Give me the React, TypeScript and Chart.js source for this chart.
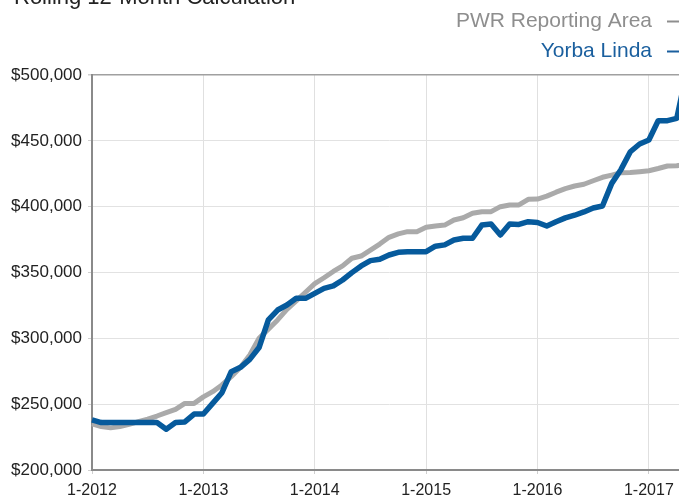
import React, { useEffect, useRef } from 'react';
import { Chart, registerables } from 'chart.js';

Chart.register(...registerables);

const titleText = 'Rolling 12-Month Calculation';
const seriesNames = ['PWR Reporting Area', 'Yorba Linda'];

const startYear = 2012;
const monthCount = 65;
const monthLabels: string[] = [];
for (let i = 0; i < monthCount; i++) {
  monthLabels.push(`${(i % 12) + 1}-${startYear + Math.floor(i / 12)}`);
}

const pwrValues = [
  235000, 233000, 232000, 233000, 234700, 236700, 238700, 241000, 243500, 246000, 250600, 250600,
  255500, 259500, 264600, 270900, 278000, 287300, 300000, 307000, 314000, 322000, 328500, 335000,
  341500, 346000, 350800, 355000, 360800, 362500, 367000, 371600, 376700, 379300, 381000, 381000,
  384300, 385300, 386000, 389900, 391600, 395000, 396200, 396200, 400000, 401300, 401300, 405600,
  405800, 408000, 411000, 413700, 415700, 417000, 419700, 422300, 424000, 425800, 426000, 426600,
  427300, 429000, 430900, 431000, 432000,
];

const yorbaValues = [
  238000, 236000, 236000, 236000, 236000, 236000, 236000, 236000, 231000, 236000, 236500, 242500,
  242500, 250600, 258700, 274700, 278000, 284000, 293000, 314000, 321500, 325300, 330400, 330400,
  334200, 338000, 339800, 344300, 349900, 355000, 359000, 360000, 363300, 365300, 365800, 365800,
  365800, 370000, 371000, 374700, 376000, 376000, 386000, 386800, 378500, 386800, 386500, 388600,
  388000, 385300, 388500, 391500, 393500, 396000, 399000, 400500, 417700, 428300, 441700, 447600,
  450600, 465300, 465300, 467000, 500000,
];

const yMin = 200000;
const yMax = 500000;
const yStep = 50000;

const FONT = '"Liberation Sans", Arial, Helvetica, sans-serif';
const GRAY = '#aaaaaa';
const BLUE = '#065a9c';

const overlayPlugin = {
  id: 'overlayText',
  afterDraw(chart: any) {
    const ctx = chart.ctx as CanvasRenderingContext2D;
    ctx.save();
    ctx.font = `22px ${FONT}`;
    ctx.fillStyle = '#222222';
    ctx.textAlign = 'left';
    ctx.textBaseline = 'alphabetic';
    ctx.fillText(titleText, 14, 4);

    ctx.font = `21px ${FONT}`;
    ctx.textAlign = 'right';
    const rows = [
      { text: seriesNames[0], color: '#8e8e8e', line: '#8e8e8e', y: 27 },
      { text: seriesNames[1], color: '#1a5f9e', line: '#1a5f9e', y: 57 },
    ];
    rows.forEach((r) => {
      ctx.fillStyle = r.color;
      ctx.fillText(r.text, 652, r.y);
      ctx.strokeStyle = r.line;
      ctx.lineWidth = 2;
      ctx.beginPath();
      ctx.moveTo(667, r.y - 5.5);
      ctx.lineTo(690, r.y - 5.5);
      ctx.stroke();
    });
    ctx.restore();
  },
};

export default function App() {
  const ref = useRef<HTMLCanvasElement | null>(null);

  useEffect(() => {
    if (!ref.current) return;
    const chart = new Chart(ref.current, {
      type: 'line',
      data: {
        labels: monthLabels,
        datasets: [
          {
            label: seriesNames[1],
            data: yorbaValues,
            borderColor: BLUE,
            borderWidth: 5.5,
            pointRadius: 0,
            tension: 0,
            fill: false,
            borderJoinStyle: 'round',
            order: 0,
          },
          {
            label: seriesNames[0],
            data: pwrValues,
            borderColor: GRAY,
            borderWidth: 5,
            pointRadius: 0,
            tension: 0,
            fill: false,
            borderJoinStyle: 'round',
            order: 1,
          },
        ],
      },
      options: {
        responsive: false,
        animation: false,
        devicePixelRatio: 1,
        layout: { padding: { top: 75, right: 14, left: 0, bottom: 0 } },
        plugins: {
          legend: { display: false },
          title: { display: false },
          tooltip: { enabled: false },
        },
        scales: {
          x: {
            type: 'category',
            offset: false,
            afterFit: (scale: any) => {
              scale.height = 27;
            },
            border: { color: '#8a8a8a', width: 2 },
            grid: {
              color: (c: any) => (c.index % 12 === 0 ? '#e0e0e0' : 'rgba(0,0,0,0)'),
              tickColor: (c: any) => (c.index % 12 === 0 ? '#cfcfcf' : 'rgba(0,0,0,0)'),
              tickLength: 4,
              lineWidth: 1,
            },
            ticks: {
              autoSkip: false,
              maxRotation: 0,
              minRotation: 0,
              padding: 7,
              color: '#222222',
              font: { family: FONT, size: 16 },
              callback: (_v: any, i: number) => (i % 12 === 0 ? monthLabels[i] : ''),
            },
          },
          y: {
            min: yMin,
            max: yMax,
            afterFit: (scale: any) => {
              scale.width = 92;
            },
            border: { color: '#8a8a8a', width: 2 },
            grid: {
              color: (c: any) => (c.tick && c.tick.value === yMax ? '#a0a0a0' : '#e2e2e2'),
              lineWidth: (c: any) => (c.tick && c.tick.value === yMax ? 1.5 : 1),
              tickColor: '#cfcfcf',
              tickLength: 4,
            },
            ticks: {
              stepSize: yStep,
              padding: 6,
              color: '#222222',
              font: { family: FONT, size: 17 },
              callback: (v: any) => '$' + Number(v).toLocaleString('en-US'),
            },
          },
        },
      },
      plugins: [overlayPlugin],
    });
    return () => chart.destroy();
  }, []);

  return (
    <div
      style={{
        position: 'fixed',
        left: 0,
        top: 0,
        width: 679,
        height: 497,
        overflow: 'hidden',
        background: '#ffffff',
      }}
    >
      <canvas ref={ref} width={700} height={497} style={{ display: 'block' }} />
    </div>
  );
}
